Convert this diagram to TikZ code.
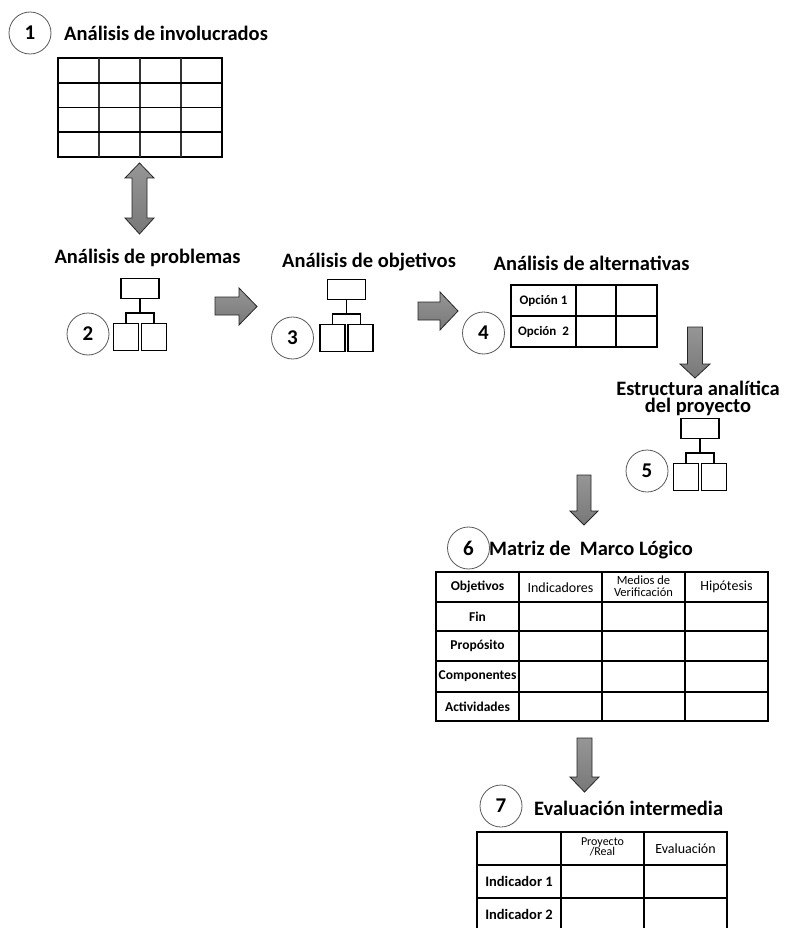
\documentclass[tikz,border=0pt]{standalone}
\usepackage{fontspec}
\setmainfont{Carlito}
\begin{document}
\begin{tikzpicture}[x=1pt,y=-1pt,
  title/.style={font=\fontsize{20.5}{22}\selectfont\bfseries, inner sep=0pt},
  numcirc/.style={circle, draw=black!65, line width=0.8pt, minimum size=42pt, inner sep=0pt, font=\fontsize{21}{22}\selectfont\bfseries},
  txtbold/.style={font=\fontsize{13.5}{14}\selectfont\bfseries, inner sep=0pt},
  txtreg/.style={font=\fontsize{14}{14}\selectfont, inner sep=0pt, align=center},
  txtsmall/.style={font=\fontsize{12.5}{12}\selectfont, inner sep=0pt, align=center},
  tbl/.style={line width=1.6pt},
  blockarrow/.style={top color={rgb,255:red,150;green,150;blue,150}, bottom color={rgb,255:red,120;green,120;blue,120}, draw=black!85, line width=0.8pt, line join=miter},
  obox/.style={draw, line width=1.3pt, inner sep=0pt},
  oline/.style={line width=1.3pt},
  orgchart/.pic={
    \node[obox, minimum width=38pt, minimum height=20pt, anchor=north] (-top) at (0,0) {};
    \node[obox, minimum width=25pt, minimum height=27pt, anchor=north] (-l) at (-14,45) {};
    \node[obox, minimum width=25pt, minimum height=27pt, anchor=north] (-r) at (14,45) {};
    \coordinate (-j) at (0,35);
    \draw[oline] (-top.south) -- (-j);
    \draw[oline] (-l.north) |- (-j) -| (-r.north);
  }]
\useasboundingbox (0,0) rectangle (785,928);

% ---- 1
\node[numcirc] (c1) at (30,33) {1};
\node[title, anchor=west] (t1) at (64,33) {Análisis de involucrados};
\draw[line width=1.6pt] (58,58) rectangle (222,157);
\foreach \xx in {99,140,181} \draw[line width=1.4pt, black!80] (\xx,58) -- (\xx,157);
\foreach \yy in {83,107.5,132} \draw[line width=1.6pt] (58,\yy) -- (222,\yy);

% double arrow
\draw[blockarrow] (139.5,163) -- (154,178) -- (147,178) -- (147,218) -- (154,218) -- (139.5,234)
  -- (125,218) -- (132,218) -- (132,178) -- (125,178) -- cycle;

% ---- 2
\node[title] (t2) at (147.5,258) {Análisis de problemas};
\pic (o2) at (140,278) {orgchart};
\node[numcirc] (c2) at (88,334) {2};

% arrow 2->3
\draw[blockarrow] (215,297) -- (239,297) -- (239,288) -- (257,306.5) -- (239,325) -- (239,315) -- (215,315) -- cycle;

% ---- 3
\node[title] (t3) at (369,262) {Análisis de objetivos};
\pic (o3) at (346.5,279) {orgchart};
\node[numcirc] (c3) at (292.5,338) {3};

% arrow 3->4
\draw[blockarrow] (418,302) -- (440,302) -- (440,292) -- (458,311) -- (440,330) -- (440,320) -- (418,320) -- cycle;

% ---- 4
\node[title] (t4) at (591.5,263) {Análisis de alternativas};
\draw[tbl] (511,285) rectangle (657,347);
\draw[tbl] (511,316) -- (657,316);
\draw[tbl] (576,285) -- (576,347);
\draw[tbl] (616,285) -- (616,347);
\node[txtbold, font=\fontsize{13}{13}\selectfont\bfseries] (op1) at (543.5,300.5) {Opción 1};
\node[txtbold, font=\fontsize{13}{13}\selectfont\bfseries] (op2) at (543.5,331.5) {Opción\ \ 2};
\node[numcirc] (c4) at (483.5,333) {4};

% arrow 4->5
\draw[blockarrow] (687.5,327) -- (702.5,327) -- (702.5,364) -- (710,364) -- (695,378) -- (680,364) -- (687.5,364) -- cycle;

% ---- 5
\node[title, anchor=base] (t5a) at (698,395) {Estructura analítica};
\node[title, anchor=base] (t5b) at (698,412) {del proyecto};
\pic (o5) at (700,418) {orgchart};
\node[numcirc] (c5) at (647,471) {5};

% arrow 5->6
\draw[blockarrow] (577,475) -- (591,475) -- (591,511) -- (598,511) -- (584,525) -- (570,511) -- (577,511) -- cycle;

% ---- 6
\node[numcirc] (c6) at (468.5,548) {6};
\node[title, anchor=west] (t6) at (489,550) {Matriz de\ \ Marco Lógico};
\draw[tbl] (436,572) rectangle (768,721);
\foreach \yy in {602,631,661,692} \draw[tbl] (436,\yy) -- (768,\yy);
\foreach \xx in {519,602,685} \draw[tbl] (\xx,572) -- (\xx,721);
\node[txtbold] (h1) at (477.5,587) {Objetivos};
\node[txtreg] (h2) at (560.5,588) {Indicadores};
\node[txtsmall] (h3) at (643.5,586.5) {Medios de\\[0pt]Verificación};
\node[txtreg] (h4) at (726.5,587) {Hipótesis};
\node[txtbold] (r1) at (477.5,616.5) {Fin};
\node[txtbold] (r2) at (477.5,646) {Propósito};
\node[txtbold] (r3) at (477.5,676.5) {Componentes};
\node[txtbold] (r4) at (477.5,706.5) {Actividades};

% arrow 6->7
\draw[blockarrow] (577,738) -- (592,738) -- (592,777) -- (599,777) -- (584.5,792) -- (570,777) -- (577,777) -- cycle;

% ---- 7
\node[numcirc] (c7) at (501,806) {7};
\node[title, anchor=west] (t7) at (534,808) {Evaluación intermedia};
\begin{scope}
\clip (0,0) rectangle (785,928);
\draw[tbl] (477,832) rectangle (727,940);
\foreach \yy in {865,898} \draw[tbl] (477,\yy) -- (727,\yy);
\foreach \xx in {561,644} \draw[tbl] (\xx,832) -- (\xx,940);
\end{scope}
\node[txtsmall, font=\fontsize{12}{12}\selectfont] (p1) at (602.5,847) {Proyecto\\[-1.5pt]/Real};
\node[txtreg] (p2) at (685.5,849) {Evaluación};
\node[txtbold, font=\fontsize{14.5}{15}\selectfont\bfseries] (i1) at (519,881.5) {Indicador 1};
\node[txtbold, font=\fontsize{14.5}{15}\selectfont\bfseries] (i2) at (519,914.5) {Indicador 2};
\end{tikzpicture}
\end{document}
